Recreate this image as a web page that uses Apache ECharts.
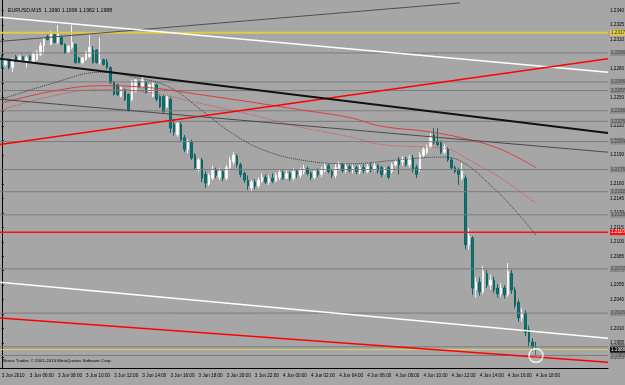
<!DOCTYPE html>
<html>
<head>
<meta charset="utf-8">
<script src="https://cdn.jsdelivr.net/npm/echarts@6/dist/echarts.min.js"></script>
<style>
html,body{margin:0;padding:0;background:#a6a6a6;}
#box{width:625px;height:385px;}
</style>
</head>
<body>
<div id="box"></div>
<script>
// EURUSD M15, 3-4 Jun 2010, one entry per bar
var barOpen = [1.2292,1.2284,1.2289,1.2281,1.2292,1.2287,1.2292,1.2286,1.2292,1.2287,
1.2289,1.2294,1.2304,1.2313,1.2305,1.2315,1.2307,1.2312,1.2305,1.2296,
1.2302,1.2305,1.2291,1.2286,1.2289,1.2292,1.2299,1.2299,1.2287,1.2289,
1.2287,1.2281,1.2266,1.2263,1.2251,1.2258,1.2253,1.2248,1.2256,1.2266,
1.2261,1.2266,1.2256,1.2251,1.2263,1.2251,1.2251,1.2240,1.2248,1.2222,
1.2211,1.2222,1.2208,1.2196,1.2203,1.2190,1.2175,1.2185,1.2170,1.2160,
1.2166,1.2175,1.2167,1.2173,1.2166,1.2177,1.2183,1.2189,1.2180,1.2171,
1.2164,1.2156,1.2162,1.2158,1.2163,1.2167,1.2162,1.2166,1.2163,1.2167,
1.2172,1.2166,1.2171,1.2166,1.2173,1.2169,1.2173,1.2176,1.2171,1.2167,
1.2173,1.2170,1.2174,1.2179,1.2173,1.2169,1.2176,1.2180,1.2174,1.2178,
1.2174,1.2177,1.2173,1.2177,1.2173,1.2178,1.2175,1.2179,1.2177,1.2172,
1.2177,1.2173,1.2180,1.2185,1.2183,1.2185,1.2180,1.2187,1.2177,1.2175,
1.2190,1.2193,1.2198,1.2211,1.2204,1.2203,1.2193,1.2196,1.2185,1.2177,
1.2175,1.2166,1.2166,1.2097,1.2104,1.2050,1.2058,1.2048,1.2067,1.2055,
1.2060,1.2052,1.2046,1.2052,1.2045,1.2067,1.2050,1.2037,1.2021,1.2026,
1.2009,1.1996,1.1990];
var barClose = [1.2282,1.2289,1.2281,1.2289,1.2289,1.2292,1.2289,1.2291,1.2289,1.2296,
1.2297,1.2304,1.2310,1.2310,1.2317,1.2307,1.2316,1.2305,1.2296,1.2303,
1.2307,1.2286,1.2286,1.2291,1.2297,1.2302,1.2286,1.2286,1.2288,1.2284,
1.2281,1.2265,1.2253,1.2253,1.2261,1.2248,1.2237,1.2266,1.2268,1.2261,
1.2270,1.2255,1.2263,1.2265,1.2248,1.2240,1.2235,1.2251,1.2218,1.2214,
1.2223,1.2206,1.2196,1.2204,1.2187,1.2177,1.2185,1.2166,1.2161,1.2169,
1.2175,1.2169,1.2173,1.2166,1.2177,1.2185,1.2190,1.2180,1.2170,1.2164,
1.2158,1.2162,1.2158,1.2164,1.2167,1.2162,1.2166,1.2163,1.2169,1.2172,
1.2166,1.2171,1.2166,1.2173,1.2170,1.2174,1.2176,1.2171,1.2167,1.2173,
1.2170,1.2175,1.2179,1.2173,1.2169,1.2177,1.2180,1.2174,1.2178,1.2174,
1.2177,1.2173,1.2177,1.2174,1.2178,1.2175,1.2179,1.2174,1.2170,1.2175,
1.2167,1.2180,1.2183,1.2180,1.2186,1.2180,1.2187,1.2175,1.2170,1.2190,
1.2196,1.2199,1.2209,1.2203,1.2201,1.2193,1.2198,1.2185,1.2177,1.2173,
1.2170,1.2173,1.2097,1.2106,1.2052,1.2058,1.2048,1.2069,1.2055,1.2060,
1.2050,1.2046,1.2052,1.2045,1.2069,1.2050,1.2034,1.2021,1.2027,1.2006,
1.1996,1.1991,1.1988];
var barLow = [1.2280,1.2282,1.2279,1.2276,1.2287,1.2286,1.2287,1.2281,1.2287,1.2286,
1.2288,1.2293,1.2295,1.2309,1.2304,1.2306,1.2305,1.2304,1.2295,1.2295,
1.2300,1.2285,1.2285,1.2284,1.2288,1.2291,1.2285,1.2285,1.2284,1.2283,
1.2279,1.2264,1.2252,1.2251,1.2250,1.2246,1.2235,1.2246,1.2255,1.2260,
1.2260,1.2254,1.2255,1.2250,1.2246,1.2239,1.2234,1.2239,1.2213,1.2210,
1.2209,1.2204,1.2193,1.2192,1.2185,1.2175,1.2173,1.2162,1.2156,1.2158,
1.2164,1.2166,1.2164,1.2163,1.2164,1.2175,1.2180,1.2177,1.2167,1.2161,
1.2154,1.2152,1.2155,1.2156,1.2161,1.2160,1.2159,1.2161,1.2162,1.2164,
1.2164,1.2165,1.2163,1.2164,1.2166,1.2166,1.2170,1.2169,1.2164,1.2165,
1.2167,1.2167,1.2172,1.2171,1.2166,1.2166,1.2174,1.2172,1.2171,1.2172,
1.2171,1.2170,1.2170,1.2171,1.2171,1.2172,1.2173,1.2171,1.2167,1.2170,
1.2165,1.2171,1.2178,1.2170,1.2179,1.2178,1.2177,1.2172,1.2166,1.2173,
1.2188,1.2191,1.2197,1.2201,1.2199,1.2191,1.2191,1.2183,1.2175,1.2171,
1.2159,1.2164,1.2092,1.2092,1.2045,1.2042,1.2044,1.2046,1.2052,1.2050,
1.2047,1.2042,1.2043,1.2041,1.2043,1.2046,1.2031,1.2017,1.2017,1.2002,
1.1992,1.1986,1.1982];
var barHigh = [1.2294,1.2291,1.2290,1.2291,1.2294,1.2294,1.2293,1.2293,1.2294,1.2297,
1.2299,1.2307,1.2312,1.2315,1.2319,1.2317,1.2325,1.2314,1.2306,1.2304,
1.2325,1.2306,1.2292,1.2292,1.2298,1.2315,1.2303,1.2300,1.2312,1.2290,
1.2290,1.2282,1.2267,1.2264,1.2262,1.2259,1.2254,1.2268,1.2269,1.2267,
1.2271,1.2267,1.2264,1.2266,1.2264,1.2252,1.2252,1.2252,1.2250,1.2227,
1.2225,1.2224,1.2211,1.2206,1.2206,1.2192,1.2187,1.2187,1.2173,1.2171,
1.2179,1.2177,1.2177,1.2175,1.2180,1.2188,1.2193,1.2191,1.2182,1.2173,
1.2169,1.2164,1.2165,1.2167,1.2171,1.2170,1.2169,1.2171,1.2172,1.2175,
1.2174,1.2175,1.2173,1.2177,1.2175,1.2177,1.2180,1.2178,1.2173,1.2175,
1.2176,1.2178,1.2182,1.2181,1.2175,1.2181,1.2183,1.2182,1.2182,1.2180,
1.2180,1.2179,1.2180,1.2180,1.2181,1.2182,1.2183,1.2181,1.2179,1.2177,
1.2179,1.2182,1.2185,1.2188,1.2189,1.2188,1.2190,1.2190,1.2180,1.2193,
1.2199,1.2201,1.2213,1.2218,1.2218,1.2205,1.2201,1.2198,1.2187,1.2179,
1.2177,1.2182,1.2169,1.2114,1.2106,1.2063,1.2063,1.2075,1.2071,1.2066,
1.2064,1.2056,1.2057,1.2055,1.2078,1.2071,1.2053,1.2040,1.2031,1.2029,
1.2013,1.2000,1.1996];

var priceTicks = [1.2340,1.2325,1.2310,1.2295,1.2280,1.2265,1.2250,1.2235,1.2220,1.2205,
1.2190,1.2175,1.2160,1.2145,1.2130,1.2115,1.2100,1.2085,1.2070,1.2055,
1.2040,1.2025,1.2010,1.1995,1.1980,1.1965];

// horizontal objects
var greyLevels = [1.2296,1.2266,1.2257,1.2236,1.2225,1.2204,1.2175,1.2152,1.2128,1.2072,1.2026,1.1991,1.1982];
var yellowLevel = 1.2317;
var redLevel = 1.2110;
var bidLevel = 1.1988;

// trend lines: [bar index, price]
var trendGreyTop = [[-0.5, 1.2308], [130.4, 1.2348]];
var trendWhiteTop = [[-0.5, 1.2333], [172.5, 1.2276]];
var trendRedTop = [[-0.5, 1.2201], [172.5, 1.2290]];
var trendBlack = [[-0.5, 1.2290], [172.5, 1.2213]];
var trendGreyMid = [[-0.5, 1.2248], [172.5, 1.2193]];
var trendWhiteLow = [[-0.5, 1.2058], [172.5, 1.2000]];
var trendRedLow = [[-0.5, 1.2021], [172.5, 1.1975]];

// moving averages sampled along the bars
var maRed = [[0,1.2244],[14,1.2256],[28,1.2262],[42,1.2260],[56,1.2253],[71,1.2245],[85,1.2237],[99,1.2229],[108,1.2220],[122,1.2214],[133,1.2206],[142,1.2196],[152,1.2177]];
var maRedDot = [[0,1.2237],[14,1.2251],[28,1.2258],[42,1.2255],[56,1.2244],[71,1.2232],[85,1.2219],[99,1.2209],[108,1.2201],[127,1.2196],[133,1.2185],[142,1.2166],[152,1.2140]];
var maGreyDot = [[0,1.2248],[14,1.2264],[28,1.2276],[39,1.2270],[48,1.2260],[56,1.2239],[65,1.2214],[74,1.2196],[85,1.2185],[99,1.2181],[113,1.2185],[125,1.2188],[131,1.2183],[139,1.2159],[146,1.2133],[152,1.2107]];

var timeTicks = ['3 Jun 2010','3 Jun 06:00','3 Jun 08:00','3 Jun 10:00','3 Jun 12:00','3 Jun 14:00','3 Jun 16:00','3 Jun 18:00','3 Jun 20:00','3 Jun 22:00',
'4 Jun 00:00','4 Jun 02:00','4 Jun 04:00','4 Jun 06:00','4 Jun 08:00','4 Jun 10:00','4 Jun 12:00','4 Jun 14:00','4 Jun 16:00','4 Jun 18:00'];

var slots = 173;
var cats = [];
for (var i = 0; i < slots; i++) {
    cats.push(i % 8 === 0 && timeTicks[i / 8] ? timeTicks[i / 8] : '');
}
var candles = [];
for (var j = 0; j < barOpen.length; j++) {
    candles.push([barOpen[j], barClose[j], barLow[j], barHigh[j]]);
}

var font = 'Liberation Sans, Arial, sans-serif';
var small = 4.6;

// horizontal price level drawn across the whole chart, price box on the axis
function level(v, color, bg, txt, w) {
    return {
        type: 'line', xAxisIndex: 1, data: [[-0.5, v], [slots - 0.5, v]],
        symbol: 'none', silent: true, z: 4,
        lineStyle: { color: color, width: w },
        endLabel: {
            show: true, distance: 2, formatter: v.toFixed(4),
            fontSize: small, fontFamily: font, color: txt, backgroundColor: bg,
            padding: [1, 1, 0, 1]
        }
    };
}
function trend(d, color, w) {
    return {
        type: 'line', xAxisIndex: 1, data: d, symbol: 'none', silent: true, z: 5,
        lineStyle: { color: color, width: w }
    };
}
function ma(d, color, type) {
    return {
        type: 'line', xAxisIndex: 1, data: d, symbol: 'none', silent: true, smooth: 0.4, z: 4,
        lineStyle: { color: color, width: 1, type: type }
    };
}

var series = [{
    type: 'candlestick',
    data: candles,
    barWidth: 2,
    z: 3,
    itemStyle: {
        color: '#ffffff', color0: '#0d7474',
        borderColor: '#f2f2f2', borderColor0: '#0b6666', borderWidth: 1
    }
}];
greyLevels.forEach(function(v) { series.push(level(v, '#7c7c7c', '#8c8c8c', '#4a4a4a', 1)); });
series.push(level(yellowLevel, '#e3c94a', '#e3c94a', '#3a3000', 2));
series.push(level(redLevel, '#ff1010', '#ff1010', '#ffffff', 1.5));
series.push(level(bidLevel, '#d8d060', '#111111', '#ffffff', 1));
series.push(
    ma(maGreyDot, '#3c3c3c', 'dotted'),
    ma(maRedDot, '#e04848', 'dotted'),
    ma(maRed, '#e03c3c', 'solid'),
    trend(trendGreyTop, '#505050', 1),
    trend(trendWhiteTop, '#ffffff', 1.5),
    trend(trendRedTop, '#ff0000', 1.5),
    trend(trendBlack, '#111111', 2),
    trend(trendGreyMid, '#4a4a4a', 1),
    trend(trendWhiteLow, '#ffffff', 1.5),
    trend(trendRedLow, '#ff0000', 1.5),
    {
        type: 'scatter', xAxisIndex: 1, data: [[152, 1.1982]], symbol: 'circle', symbolSize: 14, z: 6,
        silent: true,
        itemStyle: { color: 'rgba(255,255,255,0.15)', borderColor: '#ffffff', borderWidth: 1.5 }
    }
);

var myChart = echarts.init(document.getElementById('box'));
var option = {
    backgroundColor: '#a6a6a6',
    animation: false,
    title: {
        text: 'EURUSD,M15  1.1990 1.1996 1.1982 1.1988',
        left: 3, top: 3,
        textStyle: { fontSize: 5.2, color: '#000', fontWeight: 'normal', fontFamily: font }
    },
    graphic: [{
        type: 'text', left: 3, top: 359,
        style: { text: 'Broco Trader, \u00a9 2001-2010 MetaQuotes Software Corp.', fontSize: 4.4, fill: '#000', fontFamily: font }
    }],
    grid: { left: 0, right: 17, top: 0, bottom: 17, outerBoundsMode: 'none', containLabel: false },
    xAxis: [{
        type: 'category',
        data: cats,
        boundaryGap: true,
        axisLine: { lineStyle: { color: '#000', width: 1 } },
        axisTick: {
            alignWithLabel: true, length: 3, lineStyle: { color: '#000' },
            interval: function(idx, val) { return val !== ''; }
        },
        axisLabel: {
            interval: 0,
            align: 'left', fontSize: small, color: '#000', margin: 5, fontFamily: font
        },
        splitLine: { show: false }
    }, {
        type: 'value', min: -0.5, max: slots - 0.5, show: false
    }],
    yAxis: {
        type: 'value',
        position: 'right',
        min: 1.1969,
        max: 1.2351,
        axisLine: { show: true, lineStyle: { color: '#000', width: 1 } },
        axisTick: { show: true, length: 2, customValues: priceTicks, lineStyle: { color: '#000' } },
        axisLabel: {
            customValues: priceTicks, fontSize: small, color: '#000', margin: 2, fontFamily: font,
            formatter: function(v) { return v.toFixed(4); }
        },
        splitLine: { show: false }
    },
    series: series
};
myChart.setOption(option);
</script>
</body>
</html>
